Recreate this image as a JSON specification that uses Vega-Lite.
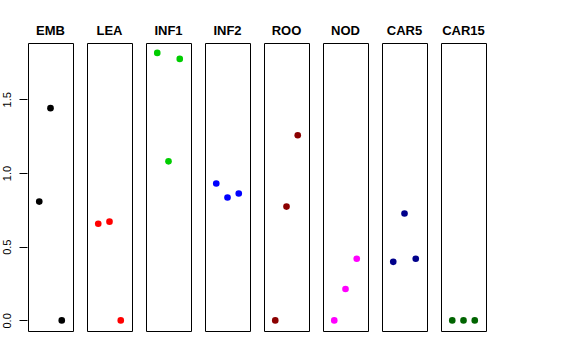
{
  "$schema": "https://vega.github.io/schema/vega-lite/v6.json",
  "padding": {"left": 0, "top": 25, "right": 5, "bottom": 5},
  "background": "white",
  "data": {"values": [
    {"tissue": "EMB", "idx": 1, "value": 0.806},
    {"tissue": "EMB", "idx": 2, "value": 1.44},
    {"tissue": "EMB", "idx": 3, "value": 0.0},
    {"tissue": "LEA", "idx": 1, "value": 0.656},
    {"tissue": "LEA", "idx": 2, "value": 0.67},
    {"tissue": "LEA", "idx": 3, "value": 0.0},
    {"tissue": "INF1", "idx": 1, "value": 1.815},
    {"tissue": "INF1", "idx": 2, "value": 1.079},
    {"tissue": "INF1", "idx": 3, "value": 1.774},
    {"tissue": "INF2", "idx": 1, "value": 0.929},
    {"tissue": "INF2", "idx": 2, "value": 0.834},
    {"tissue": "INF2", "idx": 3, "value": 0.861},
    {"tissue": "ROO", "idx": 1, "value": 0.0},
    {"tissue": "ROO", "idx": 2, "value": 0.772},
    {"tissue": "ROO", "idx": 3, "value": 1.256},
    {"tissue": "NOD", "idx": 1, "value": 0.0},
    {"tissue": "NOD", "idx": 2, "value": 0.213},
    {"tissue": "NOD", "idx": 3, "value": 0.418},
    {"tissue": "CAR5", "idx": 1, "value": 0.397},
    {"tissue": "CAR5", "idx": 2, "value": 0.725},
    {"tissue": "CAR5", "idx": 3, "value": 0.418},
    {"tissue": "CAR15", "idx": 1, "value": 0.0},
    {"tissue": "CAR15", "idx": 2, "value": 0.0},
    {"tissue": "CAR15", "idx": 3, "value": 0.0}
  ]},
  "facet": {
    "column": {
      "field": "tissue",
      "type": "nominal",
      "sort": ["EMB", "LEA", "INF1", "INF2", "ROO", "NOD", "CAR5", "CAR15"],
      "title": null,
      "header": {
        "labelOrient": "top",
        "labelFont": "Liberation Sans",
        "labelFontSize": 13,
        "labelFontWeight": "bold",
        "labelColor": "black",
        "labelPadding": 4
      }
    }
  },
  "spacing": 12,
  "spec": {
    "width": 45,
    "height": 288,
    "mark": {"type": "point", "filled": true, "opacity": 1, "size": 44},
    "encoding": {
      "x": {
        "field": "idx",
        "type": "quantitative",
        "scale": {"domain": [0, 4], "nice": false, "zero": false},
        "axis": null
      },
      "y": {
        "field": "value",
        "type": "quantitative",
        "scale": {"domain": [-0.072, 1.882], "nice": false, "zero": false},
        "axis": {
          "title": null,
          "values": [0, 0.5, 1, 1.5],
          "format": ".1f",
          "grid": false,
          "domain": false,
          "tickSize": 8,
          "tickColor": "black",
          "labelAngle": -90,
          "labelAlign": "center",
          "labelBaseline": "bottom",
          "labelPadding": 7,
          "labelFont": "Liberation Sans",
          "labelFontSize": 11,
          "labelColor": "black"
        }
      },
      "color": {
        "field": "tissue",
        "type": "nominal",
        "scale": {
          "domain": ["EMB", "LEA", "INF1", "INF2", "ROO", "NOD", "CAR5", "CAR15"],
          "range": ["#000000", "#FF0000", "#00CD00", "#0000FF", "#8B0000", "#FF00FF", "#00008B", "#006400"]
        },
        "legend": null
      }
    }
  },
  "config": {
    "view": {"stroke": "black", "strokeWidth": 1}
  }
}
